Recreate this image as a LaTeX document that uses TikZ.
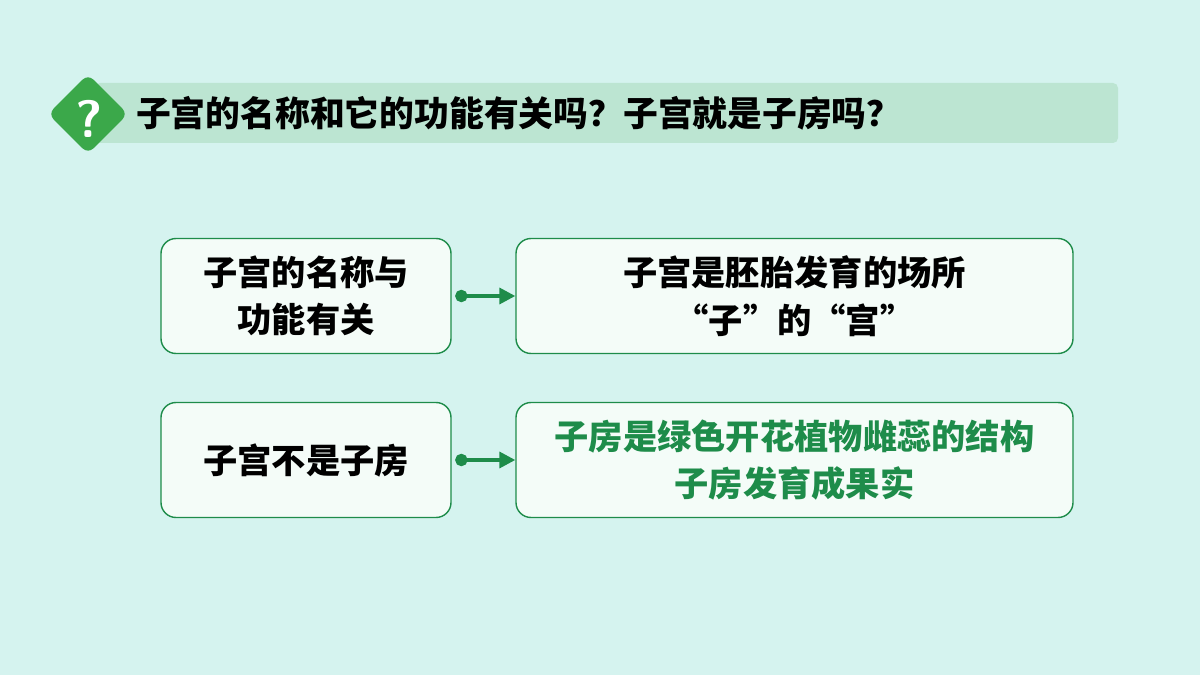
\documentclass[tikz,border=0pt]{standalone}
\usepackage{fontspec}
\newfontfamily\cjk{Noto Sans CJK SC}
\usetikzlibrary{positioning,arrows.meta}
\definecolor{bgteal}{HTML}{D5F3EF}
\definecolor{barteal}{HTML}{BCE5D2}
\definecolor{icongreen}{HTML}{3BA84A}
\definecolor{linegreen}{HTML}{1E8C4A}
\definecolor{boxfill}{HTML}{F4FCF8}
\begin{document}
\begin{tikzpicture}[x=0.02cm,y=-0.02cm,
textbox/.style={rectangle, draw=linegreen, thick, fill=boxfill, rounded corners=3mm, font=\cjk\bfseries\fontsize{19.5}{27}\selectfont, align=center, inner sep=0pt},
link/.style={draw=linegreen, line width=2pt, {Circle[length=7pt]}-{Triangle[length=9pt,width=9pt]}}
]
\fill[bgteal] (0,0) rectangle (1200,675);
\fill[barteal, rounded corners=1mm] (95,83) rectangle (1118,143);
\node[fill=icongreen, rounded corners=1.5mm, minimum size=32pt, rotate=45, inner sep=0pt] (icon) at (88,114) {};
\node[text=white, font=\sffamily\bfseries\fontsize{30}{30}\selectfont] (qmark) at (89,119) {?};
\node[anchor=west, font=\cjk\bfseries\fontsize{19.8}{22}\selectfont] (title) at (130,113) {子宫的名称和它的功能有关吗？子宫就是子房吗？};
% boxes
\node[textbox, minimum width=290*0.02cm, minimum height=115*0.02cm] (name) at (306,296) {子宫的名称与\\功能有关};
\node[textbox, minimum width=557*0.02cm, minimum height=115*0.02cm] (place) at (794.5,296) {子宫是胚胎发育的场所\\“子”的“宫”};
\node[textbox, minimum width=290*0.02cm, minimum height=115*0.02cm] (notovary) at (306,460) {子宫不是子房};
\node[textbox, minimum width=557*0.02cm, minimum height=115*0.02cm, text=linegreen] (ovary) at (794.5,460) {子房是绿色开花植物雌蕊的结构\\子房发育成果实};
% links
\draw[link] ([xshift=2pt]name.east) -- (place.west);
\draw[link] ([xshift=2pt]notovary.east) -- (ovary.west);
\end{tikzpicture}
\end{document}
